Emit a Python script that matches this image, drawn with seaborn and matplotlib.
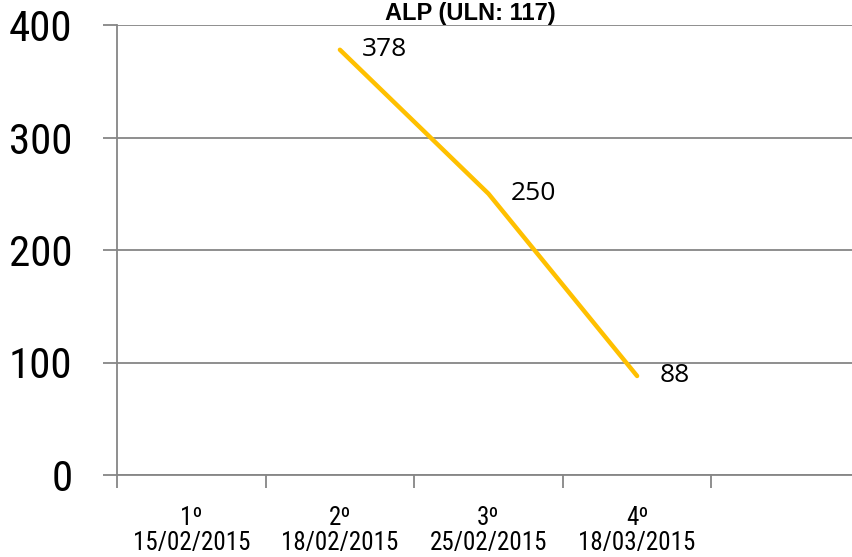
import numpy as np
import pandas as pd
import matplotlib
matplotlib.use("Agg")
import matplotlib.pyplot as plt
from matplotlib import font_manager
import seaborn as sns

# --- Data ---
ordinals = ["1º", "2º", "3º", "4º"]
dates = ["15/02/2015", "18/02/2015", "25/02/2015", "18/03/2015"]
alp_values = [np.nan, 378, 250, 88]
title = "ALP (ULN: 117)"

df = pd.DataFrame({"pos": np.arange(len(ordinals)), "alp": alp_values}).dropna()

# pick a narrow font if one is there
installed = {f.name for f in font_manager.fontManager.ttflist}
narrow = [f for f in ["Liberation Sans Narrow", "DejaVu Sans Condensed",
                      "Roboto Condensed", "Roboto"] if f in installed]
axis_font = narrow[:1] + ["DejaVu Sans"]

# --- Plot ---
sns.set_style("white")
plt.rcParams["font.family"] = axis_font

fig = plt.figure(figsize=(8.52, 5.57), dpi=100)
ax = fig.add_axes([117 / 852, 1 - 475 / 557, 743 / 852, 450 / 557])

grid_col = "#868686"
sns.lineplot(data=df, x="pos", y="alp", ax=ax, color="#FFC000", linewidth=3.2,
             solid_capstyle="round", solid_joinstyle="round", zorder=3)

# data labels to the right of each point
for x, y in zip(df["pos"], df["alp"]):
    ax.annotate(f"{y:.0f}", (x, y), xytext=(16, 0), textcoords="offset points",
                va="center", ha="left", fontsize=19, color="black",
                family=["Open Sans", "DejaVu Sans"])

ax.set_ylim(0, 400)
ax.set_yticks([0, 100, 200, 300, 400])
ax.set_xlim(-0.5, 4.5)
ax.set_xticks(np.arange(-0.5, 5, 1))
ax.set_xticklabels([])
ax.set_xticks(np.arange(len(ordinals)), minor=True)
ax.set_xticklabels([f"{o}\n{d}" for o, d in zip(ordinals, dates)], minor=True,
                   fontsize=18, linespacing=1.05, color="black")

ax.yaxis.grid(True, color=grid_col, linewidth=1.3)
ax.set_axisbelow(True)
for s in ["top", "right"]:
    ax.spines[s].set_visible(False)
for s in ["left", "bottom"]:
    ax.spines[s].set_color(grid_col)
    ax.spines[s].set_linewidth(1.3)

ax.tick_params(axis="y", which="major", direction="out", length=10, width=1.3,
               color=grid_col, pad=22, labelsize=31, labelcolor="black", left=True)
ax.tick_params(axis="x", which="major", direction="out", length=9.5, width=1.3,
               color=grid_col, bottom=True)
ax.tick_params(axis="x", which="minor", length=0, pad=22)
ax.set_xlabel("")
ax.set_ylabel("")

fig.text(470 / 852, 1 - 20 / 557, title, ha="center", va="baseline",
         fontsize=17, fontweight="bold", color="black",
         family=["Liberation Sans", "DejaVu Sans"])

fig.savefig("out.png", dpi=100)
